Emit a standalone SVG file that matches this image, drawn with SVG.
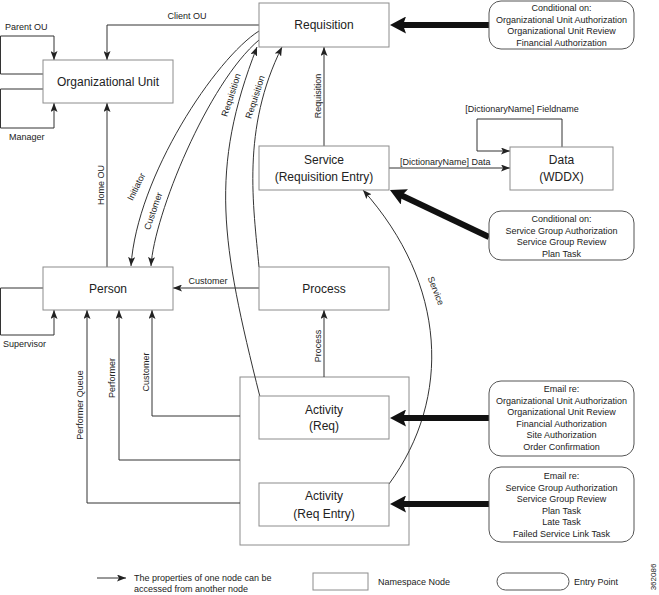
<svg xmlns="http://www.w3.org/2000/svg" width="659" height="595" viewBox="0 0 659 595">
<style>
.box{fill:#fff;stroke:#8c8c8c;stroke-width:1}
.entry{fill:#fff;stroke:#555;stroke-width:1}
.edge{fill:none;stroke:#333;stroke-width:1}
.thick{fill:none;stroke:#111;stroke-width:6}
text{font-family:"Liberation Sans",Arial,sans-serif;fill:#222}
.nl{font-size:12px;text-anchor:middle}
.el{font-size:9px;text-anchor:middle}
.ll{font-size:9px}
.ep{font-size:9px;text-anchor:middle}
</style>
<defs>
<marker id="arr" viewBox="0 0 9 7" markerWidth="9" markerHeight="7" refX="9" refY="3.5" orient="auto" markerUnits="userSpaceOnUse">
<path d="M0,0 L9,3.5 L0,7 L2,3.5 z" fill="#222"/>
</marker>
<marker id="big" viewBox="0 0 16 17" markerWidth="16" markerHeight="17" refX="6" refY="8.5" orient="auto" markerUnits="userSpaceOnUse">
<path d="M0,0 L16,8.5 L0,17 L3,8.5 z" fill="#111"/>
</marker>
</defs>
<rect width="659" height="595" fill="#fff"/>

<g id="ns-container"><rect class="box" x="240" y="377" width="169" height="168"/></g>

<g id="connectors">
<path class="edge" d="M259,25 H107 V60" marker-end="url(#arr)"/>
<path class="edge" d="M43,74 H0.5 V36 H54 V60" marker-end="url(#arr)"/>
<path class="edge" d="M43,89 H0.5 V128 H54 V103" marker-end="url(#arr)"/>
<path class="edge" d="M107,267 V103" marker-end="url(#arr)"/>
<path class="edge" d="M259,31 C216,58 137,176 131,266" marker-end="url(#arr)"/>
<path class="edge" d="M259,40 C208,83 154,215 151,266" marker-end="url(#arr)"/>
<path class="edge" d="M260,397 C221,242 209,170 257,47" marker-end="url(#arr)"/>
<path class="edge" d="M259,267 C253.5,206 241,129 282,47" marker-end="url(#arr)"/>
<path class="edge" d="M324,146 V47" marker-end="url(#arr)"/>
<path class="edge" d="M389,168 H510" marker-end="url(#arr)"/>
<path class="edge" d="M562,147 V119 H477 V151 H510" marker-end="url(#arr)"/>
<path class="edge" d="M259,288 H173" marker-end="url(#arr)"/>
<path class="edge" d="M43,288 H0.5 V335 H54 V310" marker-end="url(#arr)"/>
<path class="edge" d="M324,377 V310" marker-end="url(#arr)"/>
<path class="edge" d="M240,416 H152 V310" marker-end="url(#arr)"/>
<path class="edge" d="M240,460 H119 V310" marker-end="url(#arr)"/>
<path class="edge" d="M240,503 H87 V310" marker-end="url(#arr)"/>
<path class="edge" d="M389,484 C452,398 447,284 363,190" marker-end="url(#arr)"/>
<path class="thick" d="M489,25 H400" marker-end="url(#big)"/>
<path class="thick" d="M489,237 L399,194.3" marker-end="url(#big)"/>
<path class="thick" d="M489,418 H400" marker-end="url(#big)"/>
<path class="thick" d="M489,504 H400" marker-end="url(#big)"/>

<text class="el" x="187" y="19">Client OU</text>
<text class="ll" x="5" y="30">Parent OU</text>
<text class="ll" x="9" y="140">Manager</text>
<text class="el" transform="translate(104,185) rotate(-90)">Home OU</text>
<text class="el" transform="translate(139,188) rotate(-64)">Initiator</text>
<text class="el" transform="translate(156,212) rotate(-71)">Customer</text>
<text class="el" transform="translate(234,96) rotate(-72)">Requisition</text>
<text class="el" transform="translate(258,98) rotate(-72)">Requisition</text>
<text class="el" transform="translate(321,96) rotate(-90)">Requisition</text>
<text class="ll" x="400" y="165">[DictionaryName] Data</text>
<text class="el" x="522" y="112">[DictionaryName] Fieldname</text>
<text class="el" x="208" y="284">Customer</text>
<text class="ll" x="3" y="347">Supervisor</text>
<text class="el" transform="translate(321,346) rotate(-90)">Process</text>
<text class="el" transform="translate(148.5,372) rotate(-90)">Customer</text>
<text class="el" transform="translate(115,378) rotate(-90)">Performer</text>
<text class="el" transform="translate(83,405) rotate(-90)">Performer Queue</text>
<text class="el" transform="translate(433,292) rotate(68)">Service</text>
</g>

<g id="org-unit"><rect class="box" x="43" y="60" width="130" height="43"/><text class="nl" x="108" y="86">Organizational Unit</text></g>
<g id="requisition"><rect class="box" x="259" y="3" width="130" height="44"/><text class="nl" x="324" y="29">Requisition</text></g>
<g id="service"><rect class="box" x="259" y="146" width="130" height="44"/><text class="nl" x="324" y="164">Service</text><text class="nl" x="324" y="181">(Requisition Entry)</text></g>
<g id="data"><rect class="box" x="510" y="147" width="103" height="43"/><text class="nl" x="561.5" y="164">Data</text><text class="nl" x="561.5" y="181">(WDDX)</text></g>
<g id="person"><rect class="box" x="43" y="267" width="130" height="43"/><text class="nl" x="108" y="293">Person</text></g>
<g id="process"><rect class="box" x="259" y="267" width="130" height="43"/><text class="nl" x="324" y="293">Process</text></g>
<g id="activity-req"><rect class="box" x="259" y="396" width="130" height="43"/><text class="nl" x="324" y="414">Activity</text><text class="nl" x="324" y="430">(Req)</text></g>
<g id="activity-req-entry"><rect class="box" x="259" y="483" width="130" height="43"/><text class="nl" x="324" y="500">Activity</text><text class="nl" x="324" y="518">(Req Entry)</text></g>

<g id="entry-cond1"><rect class="entry" x="489" y="1" width="145" height="48" rx="12"/>
<text class="ep" x="561.5" y="11">Conditional on:</text>
<text class="ep" x="561.5" y="22.5">Organizational Unit Authorization</text>
<text class="ep" x="561.5" y="34">Organizational Unit Review</text>
<text class="ep" x="561.5" y="45.5">Financial Authorization</text></g>
<g id="entry-cond2"><rect class="entry" x="489" y="211" width="145" height="49" rx="12"/>
<text class="ep" x="561.5" y="222">Conditional on:</text>
<text class="ep" x="561.5" y="233.5">Service Group Authorization</text>
<text class="ep" x="561.5" y="245">Service Group Review</text>
<text class="ep" x="561.5" y="256.5">Plan Task</text></g>
<g id="entry-email1"><rect class="entry" x="489" y="381" width="145" height="75" rx="12"/>
<text class="ep" x="561.5" y="392">Email re:</text>
<text class="ep" x="561.5" y="404">Organizational Unit Authorization</text>
<text class="ep" x="561.5" y="415">Organizational Unit Review</text>
<text class="ep" x="561.5" y="427">Financial Authorization</text>
<text class="ep" x="561.5" y="438">Site Authorization</text>
<text class="ep" x="561.5" y="450">Order Confirmation</text></g>
<g id="entry-email2"><rect class="entry" x="489" y="467" width="145" height="75" rx="12"/>
<text class="ep" x="561.5" y="479">Email re:</text>
<text class="ep" x="561.5" y="490.5">Service Group Authorization</text>
<text class="ep" x="561.5" y="502">Service Group Review</text>
<text class="ep" x="561.5" y="513.5">Plan Task</text>
<text class="ep" x="561.5" y="525">Late Task</text>
<text class="ep" x="561.5" y="536.5">Failed Service Link Task</text></g>

<g id="legend">
<path class="edge" d="M97,578 H126" marker-end="url(#arr)"/>
<text class="ll" x="134" y="581">The properties of one node can be</text>
<text class="ll" x="134" y="592">accessed from another node</text>
<rect class="box" x="313" y="573" width="55" height="17"/>
<text class="ll" x="378" y="585">Namespace Node</text>
<rect class="entry" x="497" y="573" width="72" height="17" rx="8.5"/>
<text class="ll" x="574" y="585">Entry Point</text>
<text style="font-size:8px;text-anchor:middle" transform="translate(656,577) rotate(-90)">362086</text>
</g>
</svg>
